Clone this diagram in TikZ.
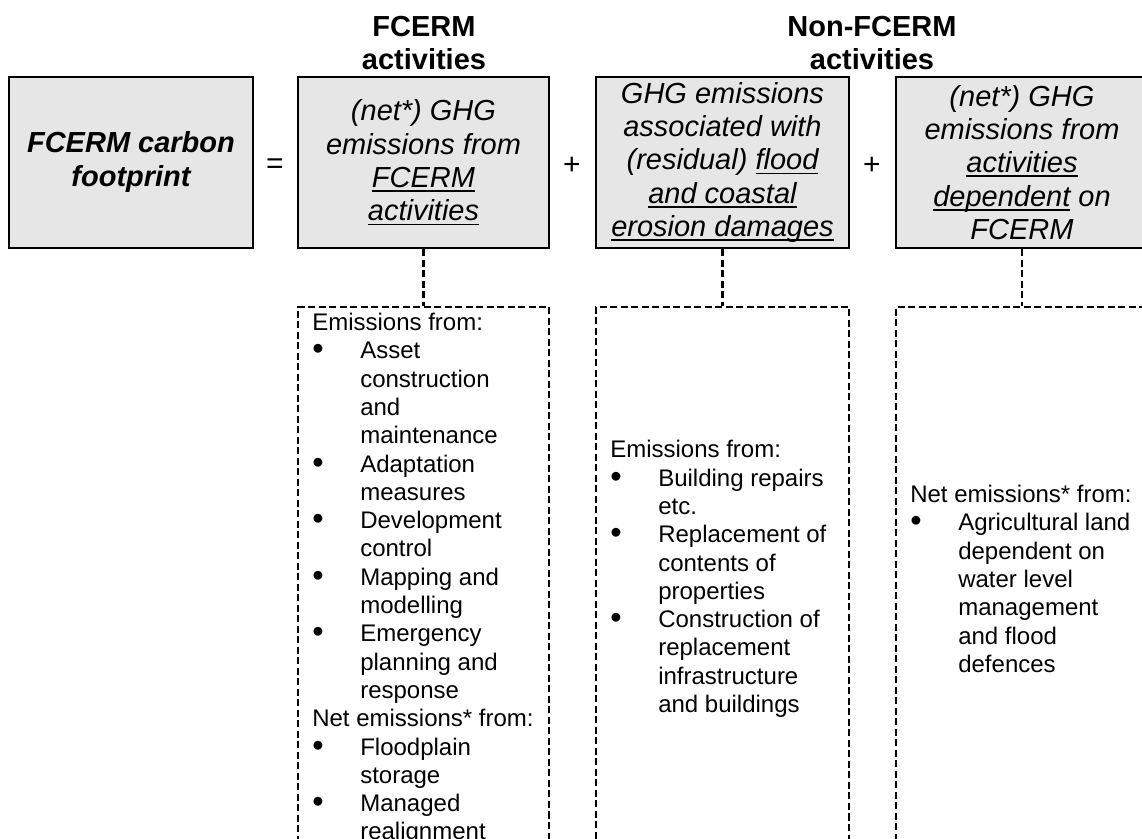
\documentclass[tikz,border=0pt]{standalone}
\usepackage{fontspec}
\setmainfont{Liberation Sans}
\usetikzlibrary{positioning}
\definecolor{cellgray}{HTML}{E6E6E6}
\newcommand{\blt}{\makebox[24pt][l]{\raisebox{-0.5pt}{\scalebox{1.35}{\textbullet}}}}
\newcommand{\hang}{\hspace*{24pt}}
\newcommand{\ulword}[1]{\setbox0\hbox{#1}\rlap{\rule[-2.2pt]{\wd0}{0.9pt}}\box0\relax}
\begin{document}
\begin{tikzpicture}[x=0.5pt,y=-0.5pt,
	sumbox/.style={draw,line width=1.1pt,fill=cellgray,minimum height=85.5pt,inner sep=0pt,align=center,font=\fontsize{14.5}{16.7}\selectfont\itshape},
	itembox/.style={draw,line width=1.1pt,dash pattern=on 3.5pt off 1.75pt,minimum height=272pt,inner sep=0pt},
	listtext/.style={align=left,inner sep=0pt,anchor=west,font=\fontsize{12}{14.15}\selectfont},
	colhead/.style={align=center,font=\fontsize{14.5}{16.5}\selectfont\bfseries},
	oper/.style={font=\fontsize{15}{17}\selectfont},
	dashline/.style={line width=1.1pt,dash pattern=on 3.5pt off 1.75pt}]
	\useasboundingbox (0,0) rectangle (1142,839);
	\clip (0,0) rectangle (1142,839);
	\node[colhead] (fcermhead) at (424,43.5) {FCERM\\activities};
	\node[colhead] (otherhead) at (872,43.5) {Non-FCERM\\activities};
	\node[sumbox,minimum width=122pt,font=\fontsize{14.5}{17}\selectfont\bfseries\itshape] (total) at (131,162.5) {FCERM carbon\\footprint};
	\node[sumbox,minimum width=125.5pt] (fcerm) at (423.5,162.5) {(net*) GHG\\emissions from\\\ulword{FCERM}\\\ulword{activities}};
	\node[sumbox,minimum width=126.5pt] (damage) at (722.5,162.5) {GHG emissions\\associated with\\(residual) \ulword{flood}\\\ulword{and coastal}\\\ulword{erosion damages}};
	\node[sumbox,minimum width=126pt] (depend) at (1022,162.5) {(net*) GHG\\emissions from\\\ulword{activities}\\\ulword{dependent} on\\FCERM};
	\node[oper] (eq) at (275,166) {=};
	\node[oper] (plusa) at (572,166) {+};
	\node[oper] (plusb) at (872,166) {+};
	\node[itembox,minimum width=125.5pt] (fcermlist) at (423.5,579) {};
	\node[itembox,minimum width=126.5pt] (damagelist) at (722.5,579) {};
	\node[itembox,minimum width=126pt] (dependlist) at (1022,579) {};
	\draw[dashline] (fcerm.south) -- (fcermlist.north);
	\draw[dashline] (damage.south) -- (damagelist.north);
	\draw[dashline] (depend.south) -- (dependlist.north);
	\node[listtext] (fcermtext) at ([xshift=7.5pt]fcermlist.west) {Emissions from:\\
		\blt Asset\\ \hang construction\\ \hang and\\ \hang maintenance\\
		\blt Adaptation\\ \hang measures\\
		\blt Development\\ \hang control\\
		\blt Mapping and\\ \hang modelling\\
		\blt Emergency\\ \hang planning and\\ \hang response\\
		Net emissions* from:\\
		\blt Floodplain\\ \hang storage\\
		\blt Managed\\ \hang realignment};
	\node[listtext] (damagetext) at ([xshift=7.5pt]damagelist.west) {Emissions from:\\
		\blt Building repairs\\ \hang etc.\\
		\blt Replacement of\\ \hang contents of\\ \hang properties\\
		\blt Construction of\\ \hang replacement\\ \hang infrastructure\\ \hang and buildings};
	\node[listtext] (dependtext) at ([xshift=7.5pt]dependlist.west) {Net emissions* from:\\
		\blt Agricultural land\\ \hang dependent on\\ \hang water level\\ \hang management\\ \hang and flood\\ \hang defences};
\end{tikzpicture}
\end{document}
